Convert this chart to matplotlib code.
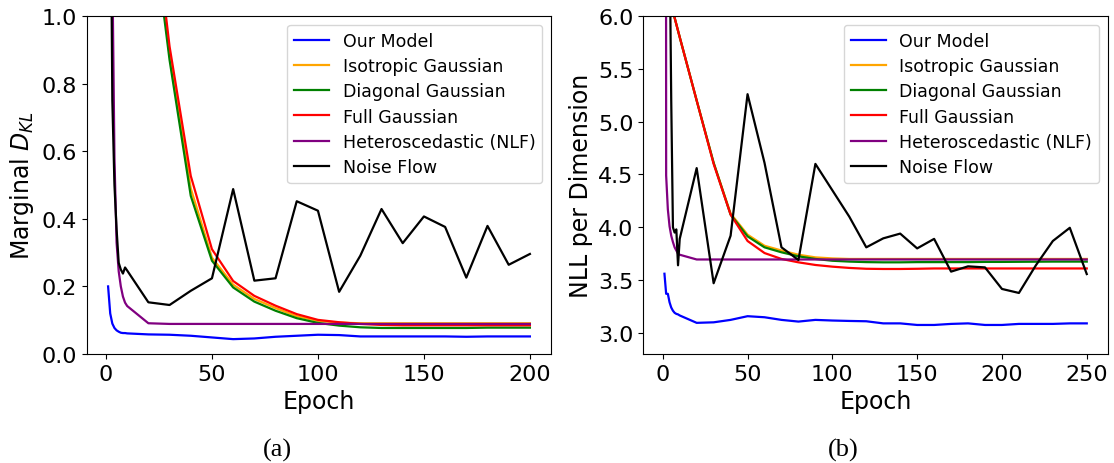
import matplotlib
matplotlib.use("Agg")
import matplotlib.pyplot as plt

# epochs
ep_a = [1, 2, 3, 4, 5, 6, 7, 8, 9, 10] + list(range(20, 201, 10))
ep_a_gauss = [1] + list(range(10, 201, 10))
ep_b = [1, 2, 3, 4, 5, 6, 7, 8, 9, 10] + list(range(20, 251, 10))
ep_b_gauss = [1] + list(range(10, 251, 10))

# (a) marginal KL
ours_a = [0.200, 0.120, 0.090, 0.077, 0.070, 0.066, 0.063, 0.062, 0.062, 0.061,
          0.058, 0.057, 0.054, 0.049, 0.044, 0.046, 0.051, 0.054, 0.057, 0.056,
          0.052, 0.052, 0.052, 0.052, 0.052, 0.051, 0.052, 0.052, 0.052]
iso_a = [6.1, 2.65, 1.40, 0.885, 0.49, 0.285, 0.205, 0.163, 0.136, 0.112, 0.098,
         0.093, 0.091, 0.091, 0.091, 0.091, 0.091, 0.091, 0.091, 0.091, 0.091]
diag_a = [6.0, 2.6, 1.37, 0.87, 0.468, 0.276, 0.197, 0.155, 0.128, 0.106, 0.092,
          0.084, 0.079, 0.077, 0.077, 0.077, 0.077, 0.077, 0.078, 0.078, 0.078]
full_a = [6.2, 2.7, 1.44, 0.91, 0.527, 0.31, 0.216, 0.172, 0.143, 0.118, 0.101,
          0.094, 0.089, 0.086, 0.085, 0.085, 0.085, 0.085, 0.085, 0.085, 0.085]
nlf_a = [8.0, 3.0, 1.15, 0.58, 0.33, 0.245, 0.200, 0.170, 0.152, 0.142,
         0.091, 0.089, 0.089, 0.089, 0.089, 0.089, 0.089, 0.089, 0.089, 0.089,
         0.089, 0.089, 0.089, 0.089, 0.089, 0.089, 0.089, 0.089, 0.089]
flow_a = [10.0, 1.58, 0.75, 0.50, 0.37, 0.27, 0.25, 0.238, 0.256, 0.247,
          0.153, 0.145, 0.187, 0.224, 0.488, 0.217, 0.224, 0.452, 0.424, 0.184,
          0.291, 0.429, 0.328, 0.407, 0.376, 0.226, 0.379, 0.264, 0.296]

# (b) NLL per dimension
ours_b = [3.56, 3.37, 3.37, 3.29, 3.24, 3.21, 3.19, 3.18, 3.175, 3.165,
          3.095, 3.10, 3.123, 3.158, 3.148, 3.123, 3.107, 3.123, 3.117, 3.113,
          3.11, 3.09, 3.09, 3.075, 3.075, 3.085, 3.09, 3.075, 3.075, 3.085,
          3.085, 3.085, 3.09, 3.09]
iso_b = [6.35, 5.8, 5.2, 4.61, 4.13, 3.93, 3.825, 3.78, 3.74, 3.715, 3.705, 3.70,
         3.70, 3.70, 3.70, 3.70, 3.70, 3.70, 3.70, 3.70, 3.70, 3.70, 3.70, 3.70,
         3.70, 3.70]
diag_b = [6.35, 5.8, 5.2, 4.61, 4.12, 3.914, 3.81, 3.763, 3.725, 3.70, 3.683,
          3.675, 3.67, 3.668, 3.668, 3.67, 3.67, 3.67, 3.67, 3.672, 3.672, 3.673,
          3.674, 3.675, 3.675, 3.675]
full_b = [6.35, 5.8, 5.2, 4.6, 4.12, 3.87, 3.756, 3.70, 3.668, 3.643, 3.627,
          3.615, 3.607, 3.605, 3.605, 3.607, 3.61, 3.61, 3.61, 3.61, 3.61, 3.61,
          3.61, 3.61, 3.61, 3.61]
nlf_b = [40.0, 4.49, 4.17, 4.01, 3.92, 3.86, 3.81, 3.78, 3.75, 3.74,
         3.695, 3.695, 3.695, 3.695, 3.695, 3.695, 3.695, 3.695, 3.695, 3.695,
         3.695, 3.695, 3.695, 3.695, 3.695, 3.695, 3.695, 3.695, 3.695, 3.695,
         3.695, 3.695, 3.695, 3.695]
flow_b = [30.0, 20.0, 12.0, 6.8, 5.2, 4.0, 3.95, 3.98, 3.64, 3.89,
          4.56, 3.47, 3.92, 5.26, 4.61, 3.81, 3.69, 4.60, 4.35, 4.10,
          3.81, 3.895, 3.94, 3.80, 3.89, 3.58, 3.63, 3.62, 3.416, 3.378,
          3.64, 3.87, 3.995, 3.557]

labels = ["Our Model", "Isotropic Gaussian", "Diagonal Gaussian", "Full Gaussian",
          "Heteroscedastic (NLF)", "Noise Flow"]
colors = ["blue", "orange", "green", "red", "purple", "black"]

fig = plt.figure(figsize=(11.14, 4.64), dpi=100)
ax1 = fig.add_axes([0.0781, 0.2349, 0.4165, 0.7284])
ax2 = fig.add_axes([0.5775, 0.2349, 0.4170, 0.7284])

panel_a = [(ep_a, ours_a), (ep_a_gauss, iso_a), (ep_a_gauss, diag_a),
           (ep_a_gauss, full_a), (ep_a, nlf_a), (ep_a, flow_a)]
panel_b = [(ep_b, ours_b), (ep_b_gauss, iso_b), (ep_b_gauss, diag_b),
           (ep_b_gauss, full_b), (ep_b, nlf_b), (ep_b, flow_b)]

for ax, series in [(ax1, panel_a), (ax2, panel_b)]:
    for (x, y), lab, c in zip(series, labels, colors):
        ax.plot(x, y, color=c, label=lab, linewidth=1.6)
    ax.tick_params(labelsize=16)
    ax.set_xlabel("Epoch", fontsize=17)
    ax.legend(loc="upper right", fontsize=12.5, labelspacing=0.42)

ax1.set_ylim(0, 1.0)
ax1.set_ylabel("Marginal $D_{KL}$", fontsize=17)
ax2.set_ylim(2.8, 6.0)
ax2.set_yticks([3.0, 3.5, 4.0, 4.5, 5.0, 5.5, 6.0])
ax2.set_ylabel("NLL per Dimension", fontsize=17)

fig.text(0.2487, 1 - 450 / 464, "(a)", ha="center", va="center",
         fontsize=19, family="Liberation Serif")
fig.text(0.757, 1 - 450 / 464, "(b)", ha="center", va="center",
         fontsize=19, family="Liberation Serif")

fig.savefig("out.png", dpi=100)
